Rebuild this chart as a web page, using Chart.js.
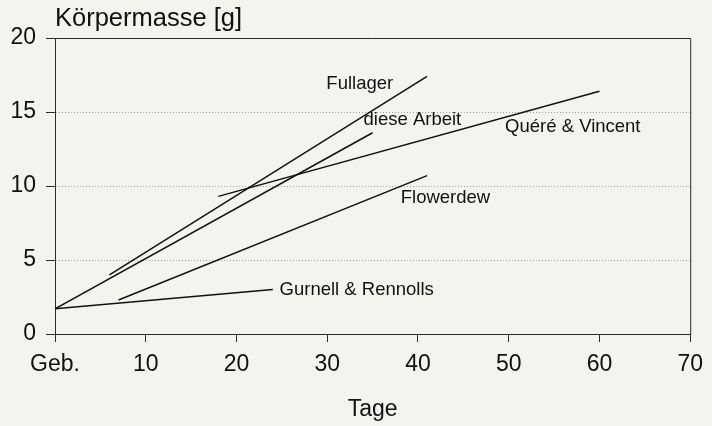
<!DOCTYPE html>
<html>
<head>
<meta charset="utf-8">
<script src="https://cdn.jsdelivr.net/npm/chart.js@4/dist/chart.umd.min.js"></script>
<style>
  html, body { margin: 0; padding: 0; background: #f4f3ee; }
  #wrap { width: 712px; height: 426px; }
</style>
</head>
<body>
<div id="wrap"><canvas id="growthChart" width="712" height="426"></canvas></div>
<script>
"use strict";

// line end points (x = Tage, y = Körpermasse in g)
const seriesNames = ["Fullager", "diese Arbeit", "Quéré & Vincent", "Flowerdew", "Gurnell & Rennolls"];
const fullagerX = [6, 41];
const fullagerY = [4.0, 17.4];
const dieseArbeitX = [0, 35];
const dieseArbeitY = [1.7, 13.6];
const quereVincentX = [18, 60];
const quereVincentY = [9.3, 16.4];
const flowerdewX = [7, 41];
const flowerdewY = [2.3, 10.7];
const gurnellX = [0, 24];
const gurnellY = [1.7, 3.0];

// where the names sit, in data units (left edge, middle)
const labelX = [29.9, 34.0, 49.6, 38.1, 24.75];
const labelY = [16.9, 14.45, 14.0, 9.2, 3.0];

const xTicks = [0, 10, 20, 30, 40, 50, 60, 70];
const yTicks = [0, 5, 10, 15, 20];
const xZeroLabel = "Geb.";
const yTitle = "Körpermasse [g]";
const xTitle = "Tage";

const FONT = "'Liberation Sans', Arial, Helvetica, sans-serif";
const INK = "#111111";

function toPoints(xs, ys) {
  return xs.map((x, i) => ({ x: x, y: ys[i] }));
}

const allX = [fullagerX, dieseArbeitX, quereVincentX, flowerdewX, gurnellX];
const allY = [fullagerY, dieseArbeitY, quereVincentY, flowerdewY, gurnellY];

const datasets = seriesNames.map((name, i) => ({
  label: name,
  data: toPoints(allX[i], allY[i]),
  showLine: true,
  borderColor: INK,
  borderWidth: 1.5,
  pointRadius: 0,
  pointHoverRadius: 0,
  fill: false,
}));

// frame, titles and line names
const decorPlugin = {
  id: "decor",
  afterDraw(chart) {
    const { ctx, chartArea, scales } = chart;
    ctx.save();
    // box round the plot
    ctx.strokeStyle = "#2a2a2a";
    ctx.lineWidth = 1;
    ctx.beginPath();
    ctx.moveTo(chartArea.left, chartArea.top + 0.5);
    ctx.lineTo(chartArea.right + 0.5, chartArea.top + 0.5);
    ctx.lineTo(chartArea.right + 0.5, chartArea.bottom);
    ctx.stroke();

    ctx.fillStyle = INK;
    ctx.textBaseline = "middle";
    ctx.font = "18.5px " + FONT;
    ctx.textAlign = "left";
    seriesNames.forEach((name, i) => {
      const px = scales.x.getPixelForValue(labelX[i]);
      const py = scales.y.getPixelForValue(labelY[i]);
      ctx.fillText(name, px, py);
    });

    ctx.font = "25.5px " + FONT;
    ctx.textAlign = "left";
    ctx.fillText(yTitle, chartArea.left, 19);
    ctx.font = "23px " + FONT;
    ctx.textAlign = "center";
    ctx.fillText(xTitle, (chartArea.left + chartArea.right) / 2, 410);
    ctx.restore();
  },
};

const canvas = document.querySelector("canvas#growthChart");
const chart = new Chart(canvas, {
  type: "scatter",
  data: { datasets: datasets },
  options: {
    responsive: false,
    animation: false,
    layout: { padding: { top: 38, right: 17, left: 0, bottom: 0 } },
    plugins: {
      legend: { display: false },
      tooltip: { enabled: false },
    },
    scales: {
      x: {
        type: "linear",
        min: 0,
        max: 70,
        afterFit(scale) { scale.height = 92; },
        afterBuildTicks(scale) { scale.ticks = xTicks.map((v) => ({ value: v })); },
        ticks: {
          color: INK,
          font: { family: FONT, size: 23 },
          padding: 9,
          maxRotation: 0,
          callback: (v) => (v === 0 ? xZeroLabel : String(v)),
        },
        grid: {
          drawOnChartArea: false,
          drawTicks: true,
          tickLength: 8,
          tickColor: "#2a2a2a",
        },
        border: { color: "#2a2a2a", width: 1 },
      },
      y: {
        type: "linear",
        min: 0,
        max: 20,
        afterFit(scale) { scale.width = 55; },
        afterBuildTicks(scale) { scale.ticks = yTicks.map((v) => ({ value: v })); },
        ticks: {
          color: INK,
          font: { family: FONT, size: 23 },
          padding: 10,
        },
        grid: {
          drawOnChartArea: true,
          drawTicks: true,
          tickLength: 9,
          tickColor: "#2a2a2a",
          color: (c) => (c.tick && (c.tick.value === 0 || c.tick.value === 20) ? "rgba(0,0,0,0)" : "#a0a0a0"),
          lineWidth: 1,
        },
        border: { color: "#2a2a2a", width: 1, dash: [1, 2] },
      },
    },
  },
  plugins: [decorPlugin],
});
</script>
</body>
</html>
